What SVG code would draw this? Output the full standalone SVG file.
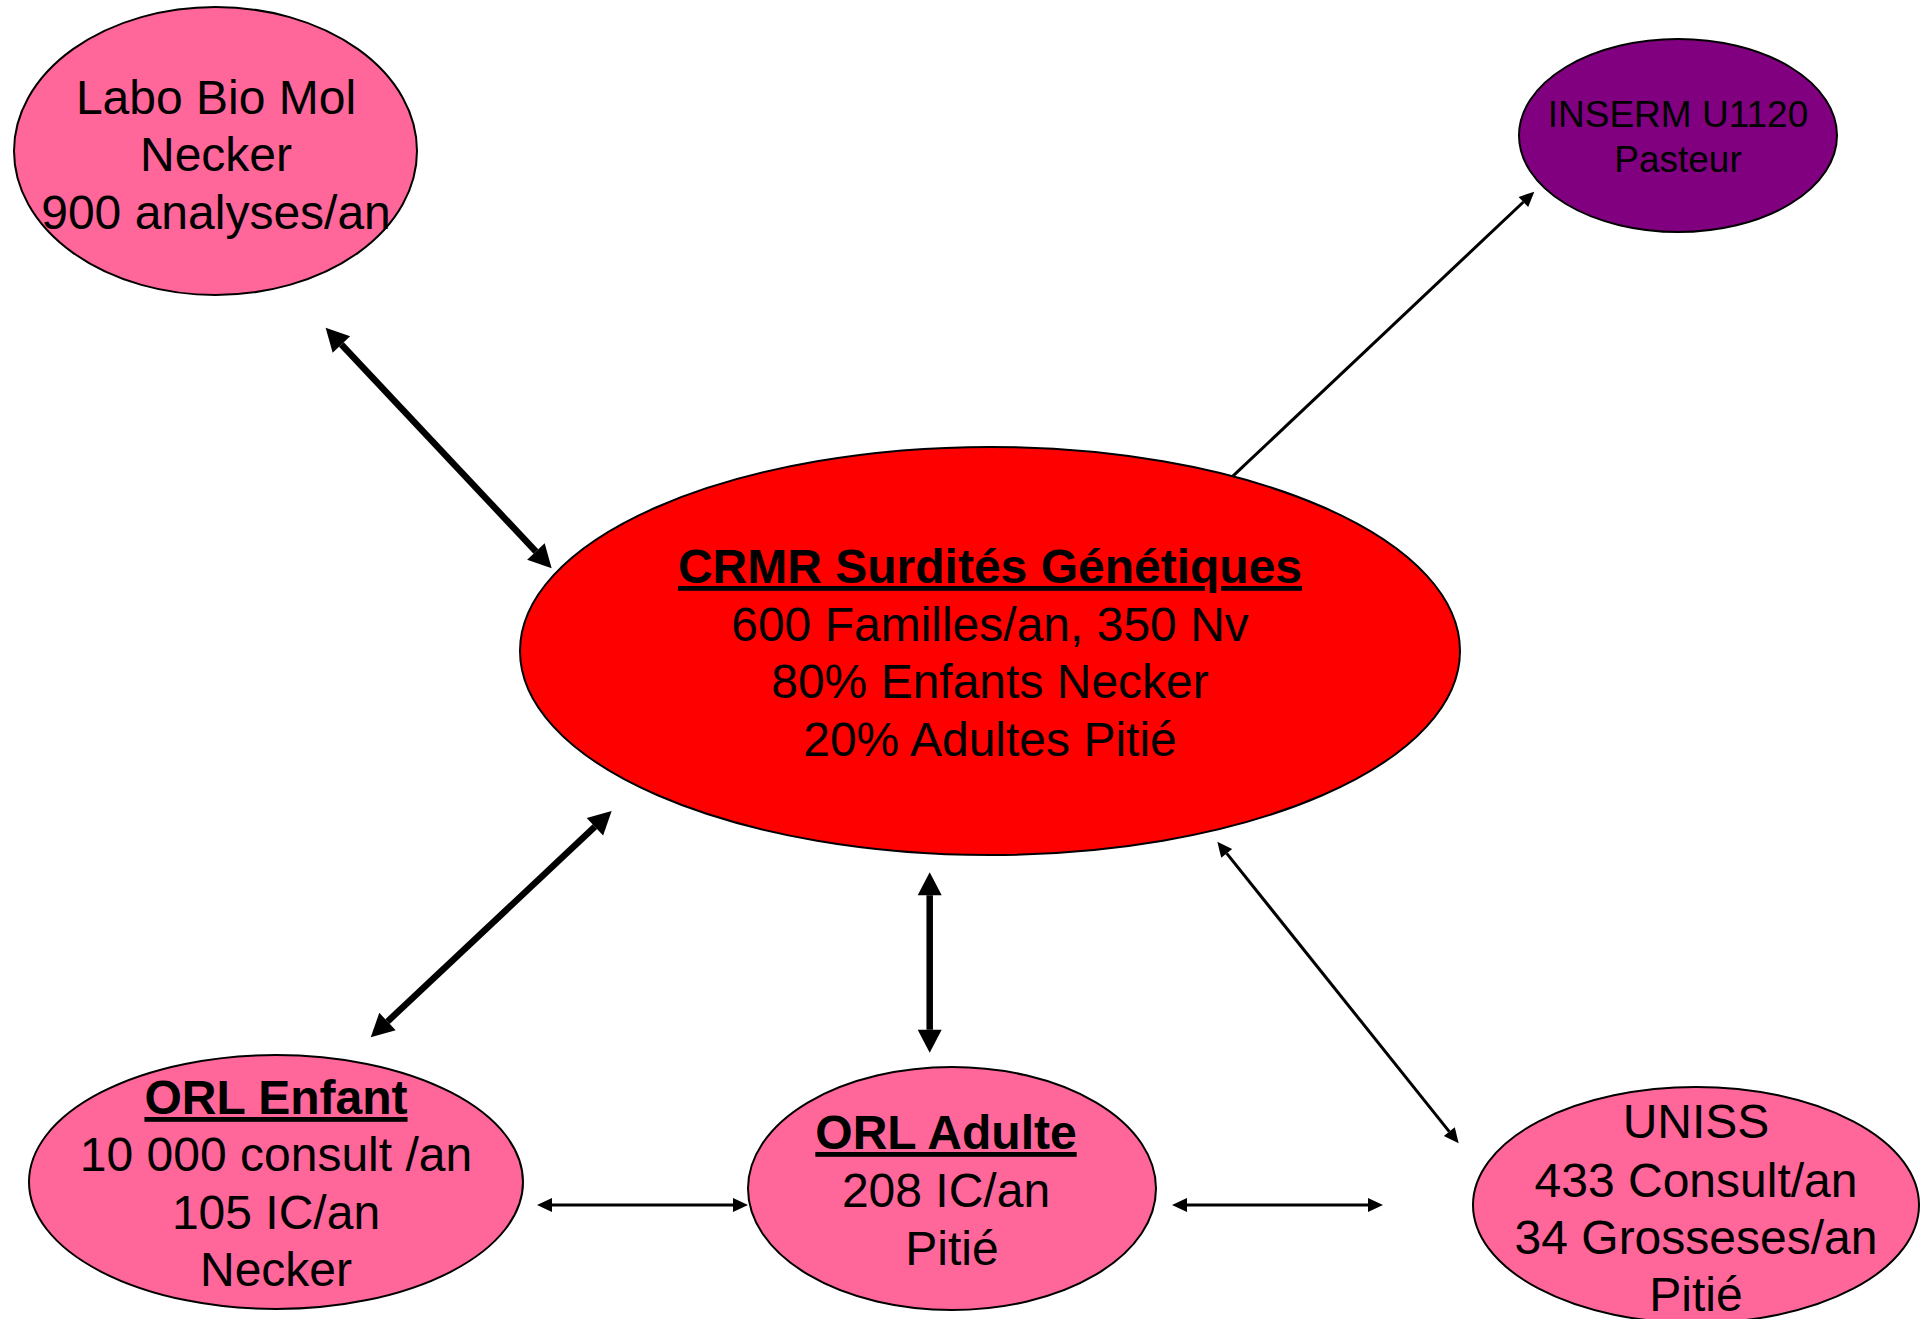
<svg xmlns="http://www.w3.org/2000/svg" width="1920" height="1319" viewBox="0 0 1920 1319">
<style>
.node{stroke:#000;stroke-width:2}
.pink{fill:#FF6699}
.red{fill:#FF0000}
.purple{fill:#800080}
text{font-family:"Liberation Sans",Arial,sans-serif;fill:#000;text-anchor:middle}
.t47{font-size:48px}
.t37{font-size:37px}
.b{font-weight:bold;text-decoration:underline}
.thick{stroke:#000;stroke-width:6.5;fill:none}
.thin{stroke:#000;stroke-width:3;fill:none}
</style>
<defs>
<marker id="hBig" markerUnits="userSpaceOnUse" markerWidth="26" markerHeight="26" viewBox="0 -13 24 26" refX="0" refY="0" orient="auto-start-reverse">
<path d="M0,-12 L23,0 L0,12 Z" fill="#000"/>
</marker>
<marker id="hSmall" markerUnits="userSpaceOnUse" markerWidth="17" markerHeight="16" viewBox="0 -8 16 16" refX="0" refY="0" orient="auto-start-reverse">
<path d="M0,-7 L15,0 L0,7 Z" fill="#000"/>
</marker>
</defs>
<rect width="1920" height="1319" fill="#fff"/>
<g id="labo">
<ellipse class="node pink" cx="215.5" cy="151" rx="201.5" ry="144"/>
<text class="t47"><tspan x="216" y="113.5">Labo Bio Mol</tspan><tspan x="216" y="171">Necker</tspan><tspan x="216" y="228.5">900 analyses/an</tspan></text>
</g>
<g id="inserm">
<ellipse class="node purple" cx="1678" cy="135.5" rx="159" ry="96.5"/>
<text class="t37"><tspan x="1678" y="127">INSERM U1120</tspan><tspan x="1678" y="172">Pasteur</tspan></text>
</g>
<g id="crmr">
<ellipse class="node red" cx="990" cy="651" rx="470" ry="204"/>
<text class="t47"><tspan x="990" y="583" class="b">CRMR Surdités Génétiques</tspan><tspan x="990" y="641">600 Familles/an, 350 Nv</tspan><tspan x="990" y="698">80% Enfants Necker</tspan><tspan x="990" y="756">20% Adultes Pitié</tspan></text>
</g>
<g id="orl-enfant">
<ellipse class="node pink" cx="276" cy="1182" rx="247" ry="127"/>
<text class="t47"><tspan x="276" y="1114" class="b">ORL Enfant</tspan><tspan x="276" y="1171">10 000 consult /an</tspan><tspan x="276" y="1228.5">105 IC/an</tspan><tspan x="276" y="1286">Necker</tspan></text>
</g>
<g id="orl-adulte">
<ellipse class="node pink" cx="952" cy="1188.5" rx="204" ry="121.5"/>
<text class="t47"><tspan x="946" y="1149" class="b">ORL Adulte</tspan><tspan x="946" y="1207">208 IC/an</tspan><tspan x="952" y="1265">Pitié</tspan></text>
</g>
<g id="uniss">
<ellipse class="node pink" cx="1696" cy="1205" rx="223" ry="118"/>
<text class="t47"><tspan x="1696" y="1138">UNISS</tspan><tspan x="1696" y="1196.5">433 Consult/an</tspan><tspan x="1696" y="1254">34 Grosseses/an</tspan><tspan x="1696" y="1311">Pitié</tspan></text>
</g>
<g id="connectors">
<line class="thick" x1="341.4" y1="344.5" x2="535.9" y2="551.5" marker-start="url(#hBig)" marker-end="url(#hBig)"/>
<line class="thick" x1="594.9" y1="826.7" x2="387.5" y2="1021.6" marker-start="url(#hBig)" marker-end="url(#hBig)"/>
<line class="thick" x1="929.7" y1="895.3" x2="929.7" y2="1029.7" marker-start="url(#hBig)" marker-end="url(#hBig)"/>
<line class="thin" x1="1232.3" y1="476.7" x2="1523.4" y2="202" marker-end="url(#hSmall)"/>
<line class="thin" x1="1226.7" y1="853.4" x2="1449.3" y2="1131.6" marker-start="url(#hSmall)" marker-end="url(#hSmall)"/>
<line class="thin" x1="552" y1="1205" x2="733" y2="1205" marker-start="url(#hSmall)" marker-end="url(#hSmall)"/>
<line class="thin" x1="1187" y1="1205" x2="1368" y2="1205" marker-start="url(#hSmall)" marker-end="url(#hSmall)"/>
</g>
</svg>
